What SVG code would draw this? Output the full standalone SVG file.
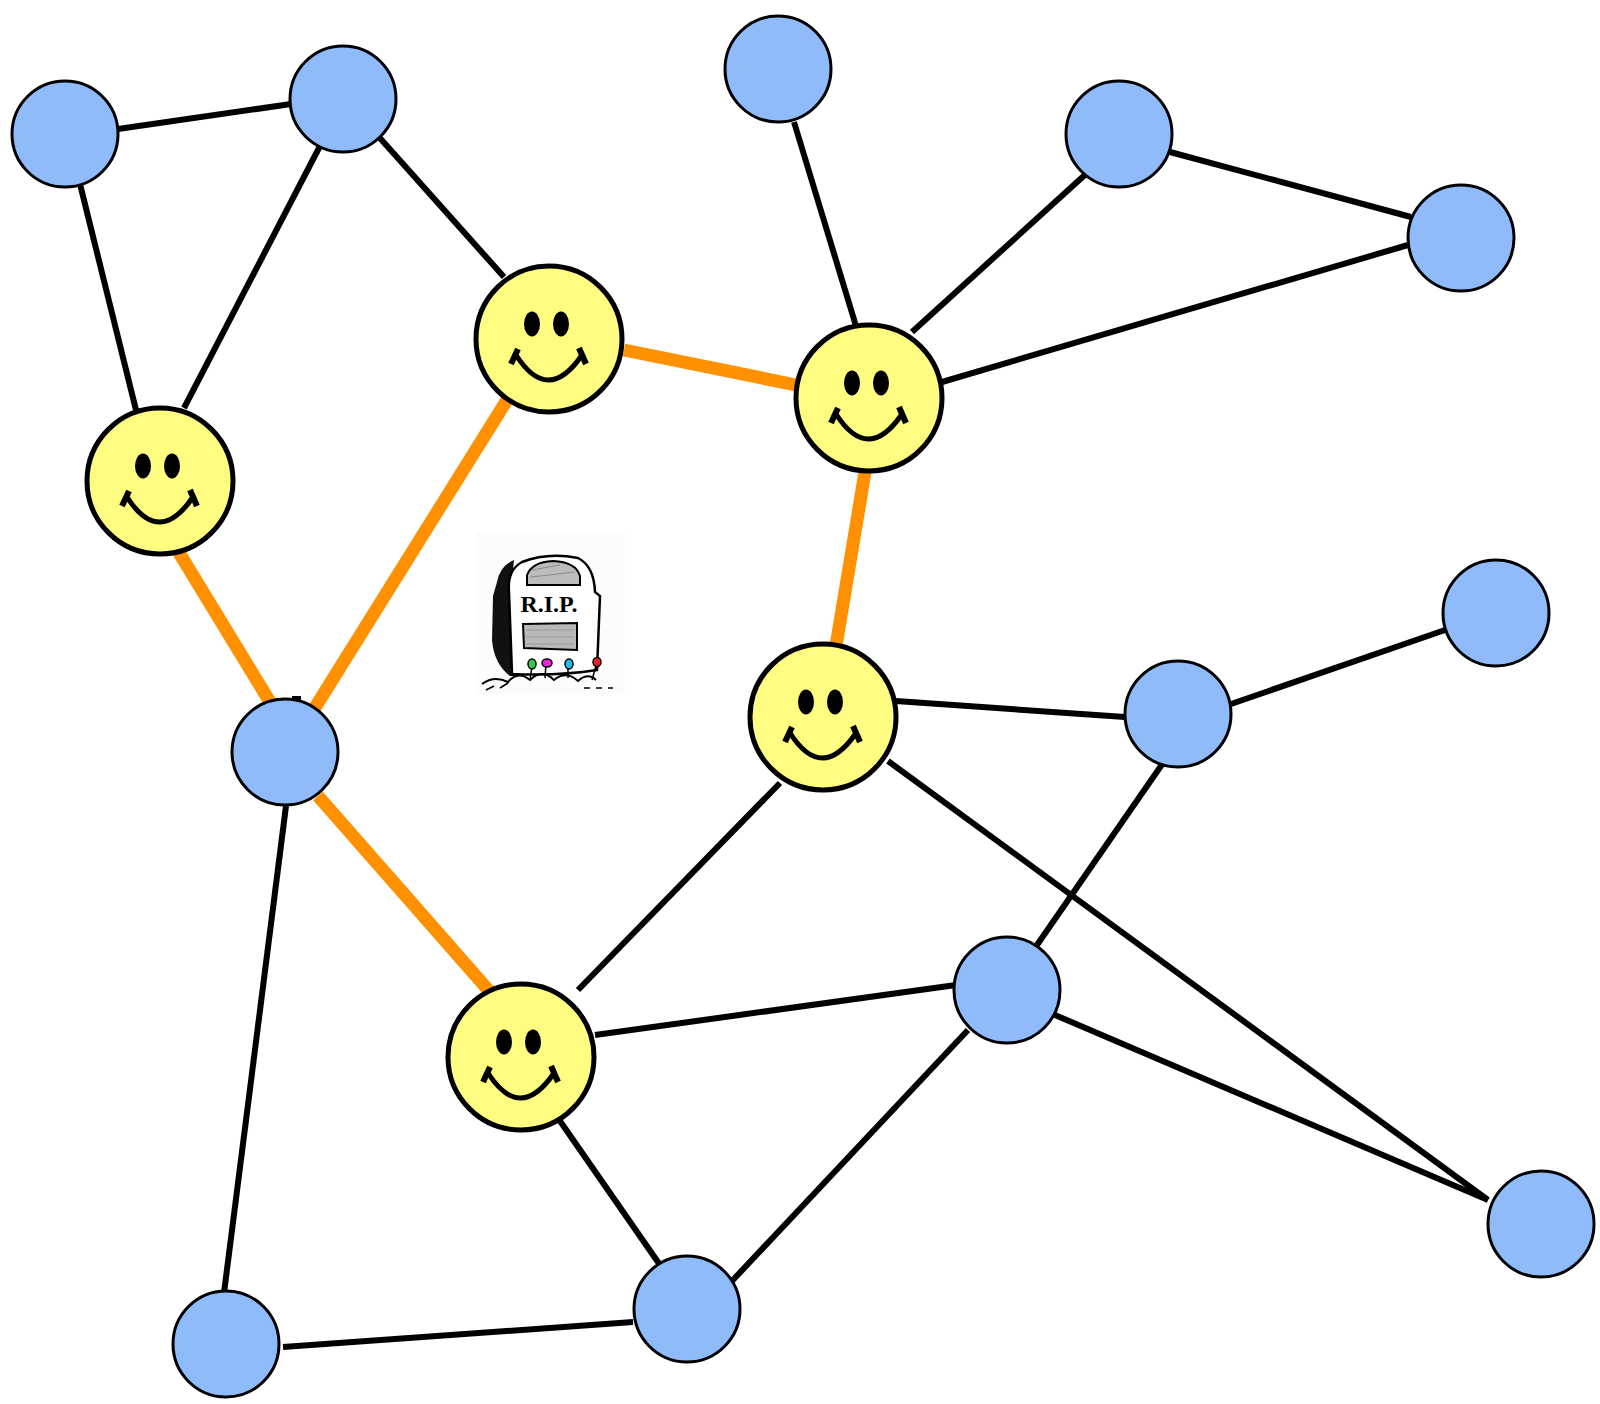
<svg xmlns="http://www.w3.org/2000/svg" width="1600" height="1404" viewBox="0 0 1600 1404">
  <defs>
    <style>
      .edge { stroke: #000; stroke-width: 6; fill: none; }
      .path { stroke: #FF9100; stroke-width: 13; fill: none; }
      .blue { fill: #8FBBFB; stroke: #000; stroke-width: 3; }
      .happy { fill: #FFFC82; stroke: #000; stroke-width: 5; }
      .feature { fill: #000; }
      .mouth { fill: none; stroke: #000; stroke-width: 5; }
      .tick { fill: none; stroke: #000; stroke-width: 6; }
    </style>
    <g id="face">
      <circle class="happy" cx="0" cy="0" r="73"/>
      <ellipse class="feature" cx="-17" cy="-15" rx="8" ry="12.5"/>
      <ellipse class="feature" cx="12" cy="-15" rx="8" ry="12.5"/>
      <path class="mouth" d="M -33 16 Q -1 66 33 16"/>
      <line class="tick" x1="-38" y1="25" x2="-31" y2="10"/>
      <line class="tick" x1="37" y1="25" x2="30" y2="9"/>
    </g>
  </defs>

  <rect x="0" y="0" width="1600" height="1404" fill="#fff"/>

  <!-- connectors -->
  <g id="connectors">
    <line class="edge" x1="118" y1="129" x2="291" y2="104"/>
    <line class="edge" x1="80" y1="184" x2="136" y2="410"/>
    <line class="edge" x1="320" y1="146" x2="184" y2="408"/>
    <line class="edge" x1="379" y1="137" x2="504" y2="277"/>
    <line class="edge" x1="794" y1="122" x2="856" y2="326"/>
    <line class="edge" x1="1087" y1="173" x2="912" y2="332"/>
    <line class="edge" x1="1170" y1="152" x2="1411" y2="217"/>
    <line class="edge" x1="1408" y1="245" x2="942" y2="382"/>
    <line class="edge" x1="896" y1="701" x2="1125" y2="717"/>
    <line class="edge" x1="1231" y1="704" x2="1445" y2="630"/>
    <line class="edge" x1="1163" y1="763" x2="1037" y2="945"/>
    <line class="edge" x1="888" y1="761" x2="1488" y2="1200"/>
    <line class="edge" x1="1055" y1="1015" x2="1488" y2="1200"/>
    <line class="edge" x1="780" y1="783" x2="578" y2="990"/>
    <line class="edge" x1="595" y1="1035" x2="956" y2="985"/>
    <line class="edge" x1="968" y1="1030" x2="732" y2="1281"/>
    <line class="edge" x1="560" y1="1121" x2="660" y2="1265"/>
    <line class="edge" x1="283" y1="1347" x2="633" y2="1322"/>
    <line class="edge" x1="286" y1="806" x2="224" y2="1293"/>
    <line class="edge" x1="292" y1="699" x2="301" y2="699"/>

    <line class="path" x1="175" y1="546" x2="270" y2="702"/>
    <line class="path" x1="311" y1="714" x2="507" y2="400"/>
    <line class="path" x1="624" y1="350" x2="796" y2="385"/>
    <line class="path" x1="865" y1="472" x2="836" y2="646"/>
    <line class="path" x1="318" y1="796" x2="490" y2="992"/>
  </g>

  <!-- plain nodes -->
  <g id="n1"><circle class="blue" cx="65" cy="134" r="53"/></g>
  <g id="n2"><circle class="blue" cx="343" cy="99" r="53"/></g>
  <g id="n3"><circle class="blue" cx="778" cy="69" r="53"/></g>
  <g id="n4"><circle class="blue" cx="1119" cy="134" r="53"/></g>
  <g id="n5"><circle class="blue" cx="1461" cy="238" r="53"/></g>
  <g id="n6"><circle class="blue" cx="1496" cy="613" r="53"/></g>
  <g id="n7"><circle class="blue" cx="1178" cy="714" r="53"/></g>
  <g id="n8"><circle class="blue" cx="285" cy="752" r="53"/></g>
  <g id="n9"><circle class="blue" cx="1007" cy="990" r="53"/></g>
  <g id="n10"><circle class="blue" cx="1541" cy="1224" r="53"/></g>
  <g id="n11"><circle class="blue" cx="687" cy="1309" r="53"/></g>
  <g id="n12"><circle class="blue" cx="226" cy="1344" r="53"/></g>

  <!-- happy nodes -->
  <g id="s1"><use href="#face" x="549" y="339"/></g>
  <g id="s2"><use href="#face" x="869" y="398"/></g>
  <g id="s3"><use href="#face" x="160" y="481"/></g>
  <g id="s4"><use href="#face" x="823" y="717"/></g>
  <g id="s5"><use href="#face" x="521" y="1057"/></g>

  <!-- tombstone -->
  <g id="tombstone">
    <rect x="475" y="531" width="150" height="163" fill="#fcfcfc"/>
    <!-- dark side -->
    <path d="M 514 560 Q 500 566 497 582 L 493 596 L 492 640 Q 494 664 510 676 L 520 676 L 511 590 Z" fill="#111"/>
    <!-- front face -->
    <path d="M 512 674 L 509 592 Q 507 570 522 562 Q 548 552 578 558 Q 594 566 595 592 L 600 596 L 597 670 Q 560 676 512 674 Z" fill="#fff" stroke="#000" stroke-width="2.5"/>
    <!-- arch window -->
    <path d="M 527 585 L 527 575 Q 532 562 553 561 Q 576 562 580 576 L 580 585 Z" fill="#bcbcbc" stroke="#000" stroke-width="2"/>
    <path d="M 532 570 L 560 565 M 531 577 L 575 572" stroke="#8a8a8a" stroke-width="1"/>
    <text x="549" y="612" text-anchor="middle" font-family="Liberation Serif, serif" font-weight="bold" font-size="24" fill="#000">R.I.P.</text>
    <!-- plaque -->
    <path d="M 523 624 L 577 623 L 577 650 L 524 648 Z" fill="#b8b8b8" stroke="#000" stroke-width="2"/>
    <path d="M 526 630 L 574 630 M 526 637 L 574 637 M 526 644 L 574 644" stroke="#9a9a9a" stroke-width="1.2"/>
    <!-- grass -->
    <path d="M 482 684 Q 494 675 508 682 Q 518 670 530 680 Q 542 668 554 680 Q 566 670 578 681 Q 588 672 596 680" fill="none" stroke="#000" stroke-width="2"/>
    <path d="M 486 690 L 494 686 M 500 688 L 508 683 M 584 688 L 590 688 M 596 688 L 602 688 M 608 688 L 613 688" stroke="#000" stroke-width="1.5"/>
    <!-- flowers -->
    <path d="M 532 666 L 530 680 M 546 664 L 545 678 M 568 664 L 568 678 M 597 662 L 592 680" stroke="#000" stroke-width="1.5"/>
    <ellipse cx="532" cy="664" rx="4" ry="5" fill="#33cc44" stroke="#000" stroke-width="1.5"/>
    <ellipse cx="547" cy="663" rx="5" ry="4" fill="#ee22dd" stroke="#000" stroke-width="1.5"/>
    <ellipse cx="569" cy="664" rx="4" ry="5" fill="#22bbee" stroke="#000" stroke-width="1.5"/>
    <ellipse cx="597" cy="662" rx="4" ry="4.5" fill="#ee2222" stroke="#000" stroke-width="1.5"/>
  </g>
</svg>
